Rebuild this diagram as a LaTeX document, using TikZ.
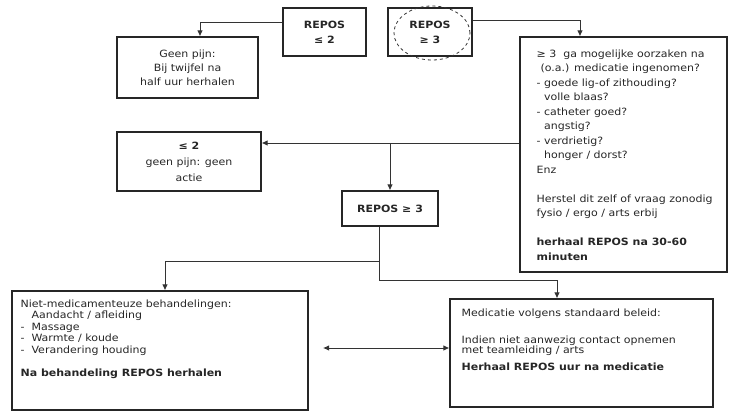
\documentclass[tikz,border=0pt]{standalone}
\usepackage{fontspec}
\setmainfont{DejaVu Sans}[FakeStretch=1.1]
\usetikzlibrary{arrows.meta}

\begin{document}
\begin{tikzpicture}[x=1pt,y=-1pt,
  every node/.style={font=\fontsize{10}{14}\selectfont,text=black!85},
  frame/.style={draw=black!85,line width=1.2pt,inner sep=0pt,align=center},
  score/.style={frame,font=\fontsize{10}{15}\selectfont\bfseries},
  link/.style={draw=black!80,line width=0.9pt},
  tip/.style={-{Latex[length=6pt,width=5.5pt]}},
  txt/.style={anchor=north west,align=left,inner sep=0pt}]
\useasboundingbox (0,0) rectangle (732,412);

% the REPOS scores at the top
\node[score,minimum width=83pt,minimum height=48pt] (r2) at (324.5,32) {REPOS\\≤ 2};
\node[score,minimum width=84pt,minimum height=48pt] (r3) at (430,32) {REPOS\\≥ 3};
% the hand drawn circle
\draw[dashed,black!80,line width=0.8pt] (432,33) ellipse (38pt and 27pt);

% no pain boxes on the left
\node[frame,minimum width=141pt,minimum height=61pt] (geenpijn) at (187.5,67.5)
  {Geen pijn:\\Bij twijfel na\\half uur herhalen};
\node[frame,minimum width=144pt,minimum height=59pt,font=\fontsize{10}{16}\selectfont]
  (geenactie) at (189,161.5) {\textbf{≤ 2}\\geen pijn: geen\\actie};

% the causes on the right
\node[frame,minimum width=207pt,minimum height=235pt] (oorzaak) at (623.5,154.5) {};
\node[txt,font=\fontsize{10}{14.5}\selectfont] (oorzaaktxt)
  at ([shift={(17,13)}]oorzaak.north west)
  {≥ 3\ \ ga mogelijke oorzaken na\\
   \hspace{4pt}(o.a.) medicatie ingenomen?\\
   - goede lig-of zithouding?\\
   \hphantom{- }volle blaas?\\
   - catheter goed?\\
   \hphantom{- }angstig?\\
   - verdrietig?\\
   \hphantom{- }honger / dorst?\\
   Enz\\[14.5pt]
   Herstel dit zelf of vraag zonodig\\
   fysio / ergo / arts erbij\\[14.5pt]
   \textbf{herhaal REPOS na 30-60}\\
   \textbf{minuten}};

% score after repeating
\node[score,minimum width=96pt,minimum height=35pt] (mid) at (390,208.5) {REPOS ≥ 3};

% the two treatments
\node[frame,minimum width=296pt,minimum height=119pt] (nietmed) at (160,350.5) {};
\node[txt,font=\fontsize{10}{11.5}\selectfont] (nietmedtxt)
  at ([shift={(9,9)}]nietmed.north west)
  {Niet-medicamenteuze behandelingen:\\
   \hphantom{-\ \ }Aandacht / afleiding\\
   -\ \ Massage\\
   -\ \ Warmte / koude\\
   -\ \ Verandering houding\\[11.5pt]
   \textbf{Na behandeling REPOS herhalen}};
\node[frame,minimum width=263pt,minimum height=108pt] (medic) at (581.5,353) {};
\node[txt,font=\fontsize{10}{10}\selectfont] (medictxt)
  at ([shift={(12,10)}]medic.north west)
  {Medicatie volgens standaard beleid:\\[17pt]
   Indien niet aanwezig contact opnemen\\
   met teamleiding / arts\\[7pt]
   \textbf{Herhaal REPOS uur na medicatie}};

% connectors
\coordinate (k1) at (200,22);
\draw[link,tip] (r2.west |- k1) -- (k1) -- (k1 |- geenpijn.north);
\coordinate (k2) at (580,20);
\draw[link,tip] (r3.east |- k2) -- (k2) -- (k2 |- oorzaak.north);
\coordinate (k3) at (390,143);
\draw[link,tip] (oorzaak.west |- k3) -- (geenactie.east |- k3);
\draw[link,tip] (k3) -- (mid.north);
\coordinate (k4) at (379,261);
\coordinate (k5) at (379,280);
\coordinate (k6) at (557,280);
\coordinate (k7) at (165,261);
\draw[link] (mid.south -| k4) -- (k5);
\draw[link,tip] (k5) -- (k6) -- (k6 |- medic.north);
\draw[link,tip] (k4) -- (k7) -- (k7 |- nietmed.north);
\coordinate (k8) at (323,348);
\draw[link,{Latex[length=6pt,width=5.5pt]}-{Latex[length=6pt,width=5.5pt]}]
  (k8) -- (medic.west |- k8);
\end{tikzpicture}
\end{document}
